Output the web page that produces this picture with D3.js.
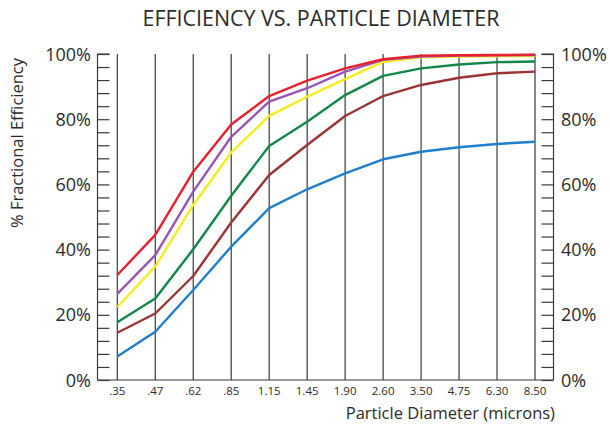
<!DOCTYPE html>
<html>
<head>
<meta charset="utf-8">
<script src="https://cdn.jsdelivr.net/npm/d3@7"></script>
<style>
  body { margin: 0; background: #fff; }
  svg { font-family: "Open Sans", "Liberation Sans", sans-serif; }
</style>
</head>
<body>
<svg id="chart" width="611" height="426"></svg>
<script>
const diameters = [".35", ".47", ".62", ".85", "1.15", "1.45", "1.90", "2.60", "3.50", "4.75", "6.30", "8.50"];
const red    = [32.2, 44.5, 63.9, 78.4, 87.1, 91.8, 95.6, 98.4, 99.5, 99.6, 99.7, 99.8];
const purple = [26.4, 38.3, 57.8, 74.6, 85.4, 89.5, 94.6, 98.2, 99.2, 99.5, 99.6, 99.7];
const yellow = [22.3, 34.8, 53.7, 69.8, 81.0, 86.9, 92.3, 97.6, 99.0, 99.2, 99.3, 99.4];
const green  = [17.7, 25.0, 40.1, 56.5, 71.8, 79.2, 87.4, 93.3, 95.6, 96.8, 97.5, 97.7];
const brown  = [14.5, 20.4, 31.9, 48.3, 62.9, 72.1, 81.0, 87.1, 90.5, 92.7, 94.1, 94.6];
const blue   = [7.2, 14.8, 27.6, 40.9, 52.7, 58.5, 63.4, 67.7, 70.0, 71.4, 72.4, 73.1];
const yTicks = [0, 20, 40, 60, 80, 100];

const series = [
  {values: blue, color: "#1f7fcf"},
  {values: brown, color: "#9b3434"},
  {values: green, color: "#13874a"},
  {values: yellow, color: "#f7ec1d"},
  {values: purple, color: "#9a55b4"},
  {values: red, color: "#e8202e"}
];

const svg = d3.select("#chart");
const m = {left: 97.5, right: 553.5, top: 54, bottom: 380};

const x = d3.scalePoint().domain(diameters).range([117.3, 535]);
const y = d3.scaleLinear().domain([0, 100]).range([m.bottom, m.top]);
const ink = "#3a3a3a";

svg.append("text")
  .attr("x", 321).attr("y", 26)
  .attr("text-anchor", "middle")
  .attr("font-family", "'Liberation Sans Narrow', 'Open Sans', sans-serif")
  .attr("font-size", 21)
  .attr("fill", "#2b2b2b")
  .attr("textLength", 357)
  .attr("lengthAdjust", "spacingAndGlyphs")
  .text("EFFICIENCY VS. PARTICLE DIAMETER");

// vertical grid lines
svg.append("g").selectAll("line").data(diameters).join("line")
  .attr("x1", d => x(d)).attr("x2", d => x(d))
  .attr("y1", m.top).attr("y2", m.bottom)
  .attr("stroke", ink).attr("stroke-width", 1.2);

// left + right axes: ticks every 4% pointing inward
const minor = d3.range(0, 101, 4);
const yl = svg.append("g").attr("transform", `translate(${m.left},0)`)
  .call(d3.axisRight(y).tickValues(minor).tickSize(12).tickFormat(""));
yl.selectAll("line, path").attr("stroke", ink).attr("stroke-width", 1.2);
yl.select(".domain").attr("d", `M12,${m.top}H0V${m.bottom}`);

const yr = svg.append("g").attr("transform", `translate(${m.right},0)`)
  .call(d3.axisLeft(y).tickValues(minor).tickSize(12).tickFormat(""));
yr.selectAll("line, path").attr("stroke", ink).attr("stroke-width", 1.2);
yr.select(".domain").attr("d", `M-12,${m.top}H0V${m.bottom}`);

// bottom line
svg.append("line")
  .attr("x1", m.left).attr("x2", m.right)
  .attr("y1", m.bottom).attr("y2", m.bottom)
  .attr("stroke", ink).attr("stroke-width", 1.2);

// y labels both sides
svg.append("g").selectAll("text").data(yTicks).join("text")
  .attr("x", 91).attr("y", d => y(d) + 6.5)
  .attr("text-anchor", "end")
  .attr("font-size", 18).attr("fill", "#2b2b2b")
  .text(d => d + "%");
svg.append("g").selectAll("text").data(yTicks).join("text")
  .attr("x", 561).attr("y", d => y(d) + 6.5)
  .attr("font-size", 18).attr("fill", "#2b2b2b")
  .text(d => d + "%");

// x labels
svg.append("g").selectAll("text").data(diameters).join("text")
  .attr("x", d => x(d)).attr("y", 395)
  .attr("text-anchor", "middle")
  .attr("font-size", 11.5).attr("fill", "#2b2b2b")
  .text(d => d);

svg.append("text")
  .attr("x", 555).attr("y", 419)
  .attr("text-anchor", "end")
  .attr("font-size", 16.5).attr("fill", "#2b2b2b")
  .text("Particle Diameter (microns)");

svg.append("text")
  .attr("transform", "translate(23,143) rotate(-90)")
  .attr("text-anchor", "middle")
  .attr("font-size", 16.5).attr("fill", "#2b2b2b")
  .text("% Fractional Efficiency");

const line = d3.line().x((d, i) => x(diameters[i])).y(d => y(d));
svg.append("g").selectAll("path").data(series).join("path")
  .attr("d", d => line(d.values))
  .attr("fill", "none")
  .attr("stroke", d => d.color)
  .attr("stroke-width", 2.4)
  .attr("stroke-linejoin", "round");
</script>
</body>
</html>
